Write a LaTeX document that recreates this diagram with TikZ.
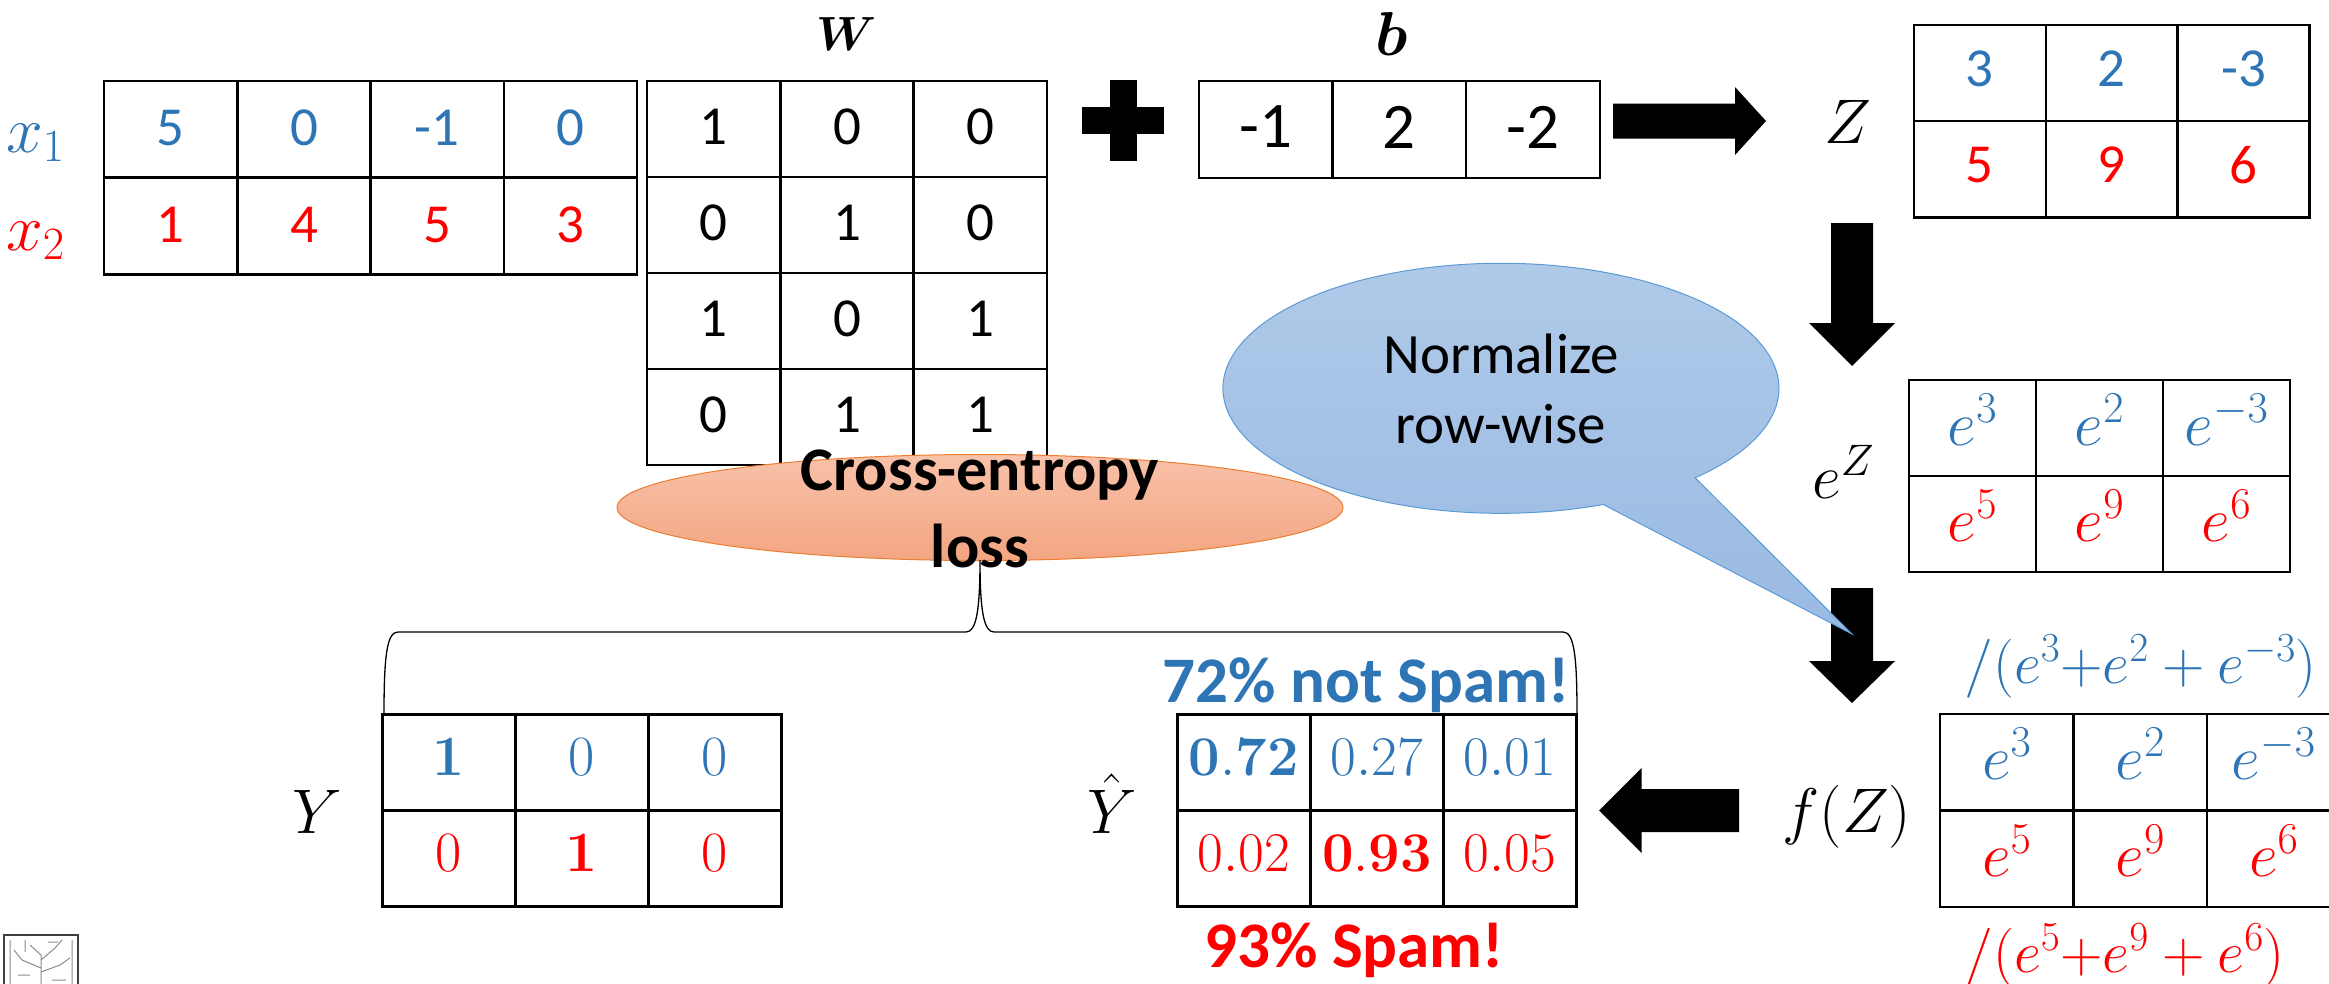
\RequirePackage{fix-cm}
\documentclass[tikz,border=0pt]{standalone}
\usepackage{bm}
\usepackage[no-math]{fontspec}
\setmainfont{Carlito}
\usetikzlibrary{shapes.geometric}
\definecolor{cblue}{HTML}{2E75B6}
\definecolor{cred}{HTML}{FF0000}
\definecolor{bubtop}{RGB}{176,202,233}
\definecolor{bubbot}{RGB}{153,186,226}
\definecolor{bubedge}{HTML}{5B9BD5}
\definecolor{elltop}{RGB}{248,194,170}
\definecolor{ellbot}{RGB}{243,165,129}
\definecolor{elledge}{HTML}{ED7D31}
\newcommand{\fsz}[1]{\fontsize{#1}{#1}\selectfont}
% grid: x0, y0, ncols, nrows, cell width, cell height
\newcommand{\mgrid}[6]{%
  \draw[gline] (#1,#2) rectangle ({#1+#3*#5},{#2+#4*#6});
  \foreach \k in {1,...,#3}{\ifnum\k<#3\relax \draw[gline] ({#1+\k*#5},#2) -- ++(0,{#4*#6});\fi}
  \foreach \k in {1,...,#4}{\ifnum\k<#4\relax \draw[gline] (#1,{#2+\k*#6}) -- ++({#3*#5},0);\fi}
}
% block arrow: tip, angle, length, half shaft, head length, half head
\newcommand{\barrow}[6]{%
  \fill[shift={#1}, rotate=#2] (0,0) -- (-#5,#6) -- (-#5,#4) -- (-#3,#4) -- (-#3,-#4) -- (-#5,-#4) -- (-#5,-#6) -- cycle;}
\begin{document}
\begin{tikzpicture}[x=1pt,y=-1pt,
  gline/.style={line width=2.5pt},
  cell/.style={inner sep=0pt, anchor=center},
  lbl/.style={inner sep=0pt}]
\useasboundingbox (0,0) rectangle (2329,983);

% ---------- x matrix
\mgrid{104}{81}{4}{2}{133.3}{96.7}
\foreach \v [count=\i] in {5,0,-1,0}
  \node[cell, text=cblue, font=\fsz{55}] (xa\i) at ({104+(\i-0.5)*133.3},128) {\v};
\foreach \v [count=\i] in {1,4,5,3}
  \node[cell, text=cred, font=\fsz{55}] (xb\i) at ({104+(\i-0.5)*133.3},225) {\v};
\node[lbl, anchor=base west, text=cblue, font=\fsz{66}] (lx1) at (6,152) {$x_1$};
\node[lbl, anchor=base west, text=cred, font=\fsz{66}] (lx2) at (6,250) {$x_2$};

% ---------- W matrix
\mgrid{647}{81}{3}{4}{133.3}{96}
\foreach \row [count=\r] in {{1,0,0},{0,1,0},{1,0,1},{0,1,1}}
  \foreach \v [count=\i] in \row
    \node[cell, font=\fsz{55}] (w\r\i) at ({647+(\i-0.5)*133.3},{81+(\r-0.5)*96-2}) {\v};
\node[lbl, anchor=base, font=\fsz{48}] (lW) at (847,50) {$\bm{W}$};

% ---------- plus
\fill (1082,106.5) rectangle (1164,133.5);
\fill (1109.5,79.5) rectangle (1136.5,160.5);

% ---------- b
\mgrid{1199}{81}{3}{1}{133.6}{97}
\foreach \v [count=\i] in {-1,2,-2}
  \node[cell, font=\fsz{65}] (b\i) at ({1199+(\i-0.5)*133.6},127) {\v};
\node[lbl, anchor=base, font=\fsz{62}] (lb) at (1392,55) {$\bm{b}$};

% ---------- arrow to Z
\coordinate (tipZ) at (1766,121);
\barrow{(tipZ)}{0}{153}{17.5}{31}{34}

% ---------- Z
\mgrid{1914}{25}{3}{2}{131.8}{96.2}
\foreach \v [count=\i] in {3,2,-3}
  \node[cell, text=cblue, font=\fsz{55}] (za\i) at ({1914+(\i-0.5)*131.8},69) {\v};
\foreach \v [count=\i] in {5,9,6}
  \node[cell, text=cred, font=\fsz{55}] (zb\i) at ({1914+(\i-0.5)*131.8},165) {\v};
\node[lbl, anchor=base, font=\fsz{63}] (lZ) at (1848,143) {$Z$};

% ---------- down arrow 1
\coordinate (tipE) at (1852,366);
\barrow{(tipE)}{-90}{143}{21}{43}{43}

% ---------- e^Z
\mgrid{1909}{380}{3}{2}{127}{95.9}
\foreach \v [count=\i] in {3,2,-3}
  \node[cell, text=cblue, font=\fsz{63}] (ea\i) at ({1909+(\i-0.5)*127},420) {$e^{\v}$};
\foreach \v [count=\i] in {5,9,6}
  \node[cell, text=cred, font=\fsz{63}] (eb\i) at ({1909+(\i-0.5)*127},516) {$e^{\v}$};
\node[lbl, anchor=base west, font=\fsz{63}] (leZ) at (1812,498) {$e^{Z}$};

% ---------- down arrow 2
\coordinate (tipF) at (1852,703);
\barrow{(tipF)}{-90}{115}{21}{42}{43}

% ---------- f(Z)
\mgrid{1940}{714}{3}{2}{133.5}{96.5}
\foreach \v [count=\i] in {3,2,-3}
  \node[cell, text=cblue, font=\fsz{63}] (fa\i) at ({1940+(\i-0.5)*133.5},754) {$e^{\v}$};
\foreach \v [count=\i] in {5,9,6}
  \node[cell, text=cred, font=\fsz{63}] (fb\i) at ({1940+(\i-0.5)*133.5},851) {$e^{\v}$};
\node[lbl, anchor=base, font=\fsz{63}] (lf) at (1847,832) {$f(Z)$};
\node[lbl, anchor=base west, text=cblue, font=\fsz{59}] (sumA) at (1964,683) {$/(e^3{+}e^2+e^{-3})$};
\node[lbl, anchor=base west, text=cred, font=\fsz{59}] (sumB) at (1964,972) {$/(e^5{+}e^9+e^6)$};

% ---------- left arrow
\coordinate (tipY) at (1599,810.5);
\barrow{(tipY)}{180}{140}{21.5}{42.5}{42.5}

% ---------- Y hat
\mgrid{1177.3}{714.3}{3}{2}{133.1}{96.2}
\foreach \v [count=\i] in {$\mathbf{0.72}$,$0.27$,$0.01$}
  \node[cell, text=cblue, font=\fsz{56}] (ha\i) at ({1177.3+(\i-0.5)*133.1},757) {\v};
\foreach \v [count=\i] in {$0.02$,$\mathbf{0.93}$,$0.05$}
  \node[cell, text=cred, font=\fsz{56}] (hb\i) at ({1177.3+(\i-0.5)*133.1},853) {\v};
\node[lbl, anchor=base, font=\fsz{63}] (lYh) at (1112,833) {$\hat{Y}$};
\node[lbl, anchor=base, text=cblue, font=\bfseries\fsz{65}] (notspam) at (1366,702) {72\% not Spam!};
\node[lbl, anchor=base, text=cred, font=\bfseries\fsz{65}] (spam) at (1354,967) {93\% Spam!};

% ---------- Y
\mgrid{382.3}{714.3}{3}{2}{133}{96}
\foreach \v [count=\i] in {$\mathbf{1}$,$0$,$0$}
  \node[cell, text=cblue, font=\fsz{57}] (ya\i) at ({382.3+(\i-0.5)*133},757) {\v};
\foreach \v [count=\i] in {$0$,$\mathbf{1}$,$0$}
  \node[cell, text=cred, font=\fsz{57}] (yb\i) at ({382.3+(\i-0.5)*133},853) {\v};
\node[lbl, anchor=base, font=\fsz{63}] (lY) at (317,833) {$Y$};

% ---------- cross-entropy ellipse
\node[ellipse, draw=elledge, line width=1pt, top color=elltop, bottom color=ellbot,
      minimum width=726pt, minimum height=106pt, inner sep=0pt] (ce) at (980,507.5) {};
\node[lbl, anchor=base, font=\bfseries\fsz{62}] (ce1) at (980,490) {Cross-entropy};
\node[lbl, anchor=base, font=\bfseries\fsz{62}] (ce2) at (980,567) {loss};

% ---------- brace
\draw[line width=1.3pt] (384,714) .. controls (384,655) and (387,632) .. (398,632) -- (966,632)
  .. controls (976,632) and (980,612) .. (980,560)
  .. controls (980,612) and (984,632) .. (994,632) -- (1563,632)
  .. controls (1574,632) and (1577,655) .. (1577,714);

% ---------- speech bubble
\coordinate (bubtip) at (1852,634);
\path[draw=bubedge, line width=1pt, top color=bubtop, bottom color=bubbot]
  (1603.3,504.5) arc[start angle=68.4, end angle=405.7, x radius=278, y radius=125]
  -- (bubtip) -- cycle;
\node[lbl, anchor=base, font=\fsz{57}] (norm1) at (1501,373) {Normalize};
\node[lbl, anchor=base, font=\fsz{57}] (norm2) at (1501,443) {row-wise};

% ---------- small logo
\draw[line width=1.2pt, black!75] (4,935) rectangle (78,992);
\draw[line width=1pt, black!45] (41,990) -- (41,955) -- (30,945) (41,960) -- (55,948) -- (62,940)
  (41,968) -- (22,960) -- (14,950) (41,972) -- (60,965) -- (70,958)
  (10,940) -- (10,985) (72,940) -- (72,985) (18,975) -- (30,975) (52,980) -- (66,980)
  (25,940) -- (25,952) (58,942) -- (48,942);
\end{tikzpicture}
\end{document}
